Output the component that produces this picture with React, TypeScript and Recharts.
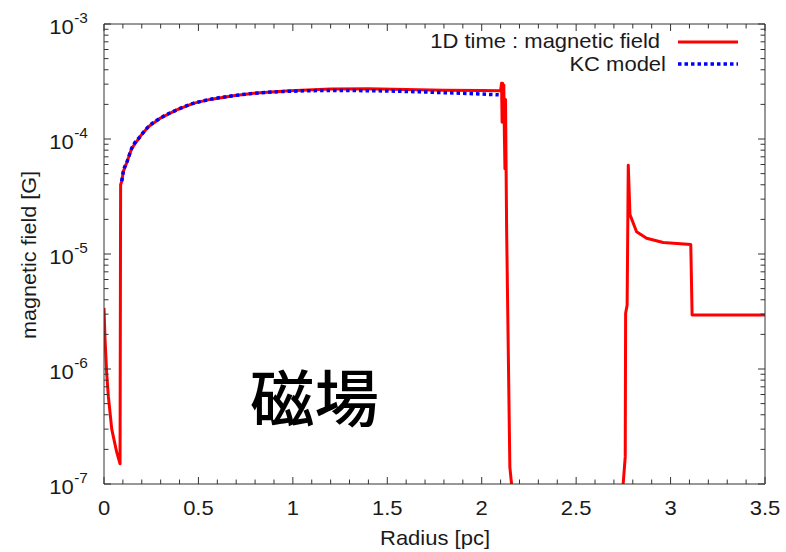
import React from "react";
import { LineChart, Line, XAxis, YAxis } from "recharts";

// 1D time-dependent run: magnetic field [G] against radius [pc]
const simRadius = [
  0, 0.005, 0.014, 0.023, 0.041, 0.067, 0.085, 0.088, 0.094, 0.102, 0.12, 0.147, 0.191, 0.235,
  0.296, 0.385, 0.473, 0.561, 0.685, 0.826, 0.985, 1.2, 1.4, 1.6, 1.8, 2.0, 2.1, 2.105, 2.108,
  2.111, 2.114, 2.117, 2.12, 2.123, 2.126, 2.132, 2.149, 2.158, 2.165, 2.74, 2.749, 2.76, 2.762,
  2.77, 2.776, 2.785, 2.82, 2.873, 2.961, 3.107, 3.114, 3.5,
];
const simField = [
  3.4e-6, 1.9e-6, 9.3e-7, 5.8e-7, 3.0e-7, 1.9e-7, 1.5e-7, 4.0e-5, 4.3e-5, 5.2e-5, 6.2e-5, 8.3e-5,
  1.05e-4, 1.28e-4, 1.51e-4, 1.79e-4, 2.04e-4, 2.21e-4, 2.38e-4, 2.53e-4, 2.63e-4, 2.72e-4,
  2.73e-4, 2.69e-4, 2.66e-4, 2.64e-4, 2.63e-4, 3.05e-4, 1.4e-4, 3.05e-4, 1.8e-4, 2.95e-4, 1.1e-4,
  5.5e-5, 2.2e-4, 1.6e-5, 1.4e-7, 1e-7, 1e-9, 1e-9, 1e-7, 1.73e-7, 3.05e-6, 3.6e-6, 5.9e-5,
  2.2e-5, 1.56e-5, 1.37e-5, 1.26e-5, 1.21e-5, 2.95e-6, 2.95e-6,
];

// KC model curve
const kcRadius = [
  0.094, 0.102, 0.12, 0.147, 0.191, 0.235, 0.296, 0.385, 0.473, 0.561, 0.685, 0.826, 0.985, 1.2,
  1.4, 1.6, 1.8, 2.0, 2.09,
];
const kcField = [
  4.3e-5, 5.2e-5, 6.2e-5, 8.3e-5, 1.05e-4, 1.28e-4, 1.51e-4, 1.79e-4, 2.04e-4, 2.21e-4, 2.38e-4,
  2.52e-4, 2.6e-4, 2.64e-4, 2.63e-4, 2.59e-4, 2.53e-4, 2.46e-4, 2.42e-4,
];

const xTicks = [
  0, 0.1, 0.2, 0.3, 0.4, 0.5, 0.6, 0.7, 0.8, 0.9, 1, 1.1, 1.2, 1.3, 1.4, 1.5, 1.6, 1.7, 1.8, 1.9,
  2, 2.1, 2.2, 2.3, 2.4, 2.5, 2.6, 2.7, 2.8, 2.9, 3, 3.1, 3.2, 3.3, 3.4, 3.5,
];
const decades = [1e-7, 1e-6, 1e-5, 1e-4];
const mantissas = [1, 2, 3, 4, 5, 6, 7, 8, 9];
const yTicks = [...decades.flatMap((d) => mantissas.map((m) => m * d)), 1e-3];

const simData = simRadius.map((r, i) => ({ r, b: simField[i] }));
const kcData = kcRadius.map((r, i) => ({ r, b: kcField[i] }));

const FONT = "'Liberation Sans', Arial, Helvetica, sans-serif";
const AXIS = "#333";
const INK = "#1a1a1a";
const SX = 1.1; // glyphs are a little wider than tall
const MAJOR = 7;
const MINOR = 4.5;

const isHalf = (v: number) => Math.abs(v * 2 - Math.round(v * 2)) < 1e-6;
const isDecade = (v: number) => {
  const l = Math.log10(v);
  return Math.abs(l - Math.round(l)) < 1e-6;
};

function BottomTick({ x, y, payload }: any) {
  const v = payload.value;
  const major = isHalf(v);
  return (
    <g>
      <line x1={x} x2={x} y1={y} y2={y - (major ? MAJOR : MINOR)} stroke={AXIS} />
      {major && (
        <text
          transform={`translate(${x},${y + 31}) scale(${SX},1)`}
          textAnchor="middle"
          fontSize={20}
          fontFamily={FONT}
          fill={INK}
        >
          {String(v)}
        </text>
      )}
    </g>
  );
}

function TopTick({ x, y, payload }: any) {
  const major = isHalf(payload.value);
  return <line x1={x} x2={x} y1={y} y2={y + (major ? MAJOR : MINOR)} stroke={AXIS} />;
}

function LeftTick({ x, y, payload }: any) {
  const v = payload.value;
  const major = isDecade(v);
  const exp = Math.round(Math.log10(v));
  return (
    <g>
      <line x1={x} x2={x + (major ? MAJOR : MINOR)} y1={y} y2={y} stroke={AXIS} />
      {major && (
        <g transform={`translate(${x - 54.7},${y}) scale(${SX},1)`} fontFamily={FONT} fill={INK}>
          <text x={0} y={10} fontSize={20}>
            10
          </text>
          <text x={22.6} y={-1} fontSize={14}>
            {String(exp)}
          </text>
        </g>
      )}
    </g>
  );
}

function RightTick({ x, y, payload }: any) {
  const major = isDecade(payload.value);
  return <line x1={x} x2={x - (major ? MAJOR : MINOR)} y1={y} y2={y} stroke={AXIS} />;
}

export default function App() {
  return (
    <div style={{ position: "absolute", left: 0, top: 0, width: 786, height: 552, background: "#fff" }}>
      <LineChart width={786} height={552} margin={{ top: 23, right: 20, bottom: 8, left: 24 }}>
        <XAxis
          dataKey="r"
          type="number"
          domain={[0, 3.5]}
          ticks={xTicks}
          interval={0}
          allowDataOverflow
          height={60}
          tickSize={0}
          tickMargin={0}
          axisLine={{ stroke: AXIS }}
          tick={(p: any) => <BottomTick {...p} />}
        />
        <XAxis
          xAxisId="top"
          orientation="top"
          dataKey="r"
          type="number"
          domain={[0, 3.5]}
          ticks={xTicks}
          interval={0}
          allowDataOverflow
          height={1}
          tickSize={0}
          tickMargin={0}
          axisLine={{ stroke: AXIS }}
          tick={(p: any) => <TopTick {...p} />}
        />
        <YAxis
          scale="log"
          domain={[1e-7, 1e-3]}
          ticks={yTicks}
          interval={0}
          allowDataOverflow
          width={80}
          tickSize={0}
          tickMargin={0}
          axisLine={{ stroke: AXIS }}
          tick={(p: any) => <LeftTick {...p} />}
        />
        <YAxis
          yAxisId="right"
          orientation="right"
          scale="log"
          domain={[1e-7, 1e-3]}
          ticks={yTicks}
          interval={0}
          allowDataOverflow
          width={1}
          tickSize={0}
          tickMargin={0}
          axisLine={{ stroke: AXIS }}
          tick={(p: any) => <RightTick {...p} />}
        />
        <Line
          data={simData}
          dataKey="b"
          type="linear"
          stroke="#ff0000"
          strokeWidth={3}
          strokeLinejoin="round"
          dot={false}
          activeDot={false}
          isAnimationActive={false}
        />
        <Line
          data={kcData}
          dataKey="b"
          type="monotone"
          stroke="#0000ff"
          strokeWidth={3.5}
          strokeDasharray="3.5 3"
          dot={false}
          activeDot={false}
          isAnimationActive={false}
        />
      </LineChart>
      <svg
        width={786}
        height={552}
        style={{ position: "absolute", left: 0, top: 0, pointerEvents: "none" }}
        fontFamily={FONT}
        fill={INK}
      >
        <text transform={`translate(435,545) scale(${SX},1)`} textAnchor="middle" fontSize={20}>
          Radius [pc]
        </text>
        <text transform="translate(36,255) rotate(-90) scale(1.08,1)" textAnchor="middle" fontSize={20}>
          magnetic field [G]
        </text>
        <text transform={`translate(660,48) scale(${SX},1)`} textAnchor="end" fontSize={20}>
          1D time : magnetic field
        </text>
        <line x1={678} x2={738} y1={42} y2={42} stroke="#ff0000" strokeWidth={3} />
        <text transform={`translate(666,70.5) scale(${SX},1)`} textAnchor="end" fontSize={20}>
          KC model
        </text>
        <line x1={678} x2={738} y1={64} y2={64} stroke="#0000ff" strokeWidth={3.5} strokeDasharray="3.5 3" />
        <text
          transform="translate(250,422) scale(1.04,1)"
          fontSize={62}
          fontWeight={500}
          fontFamily="'Noto Sans CJK JP', 'Noto Sans CJK SC', sans-serif"
          fill="#000"
        >
          磁場
        </text>
      </svg>
    </div>
  );
}
